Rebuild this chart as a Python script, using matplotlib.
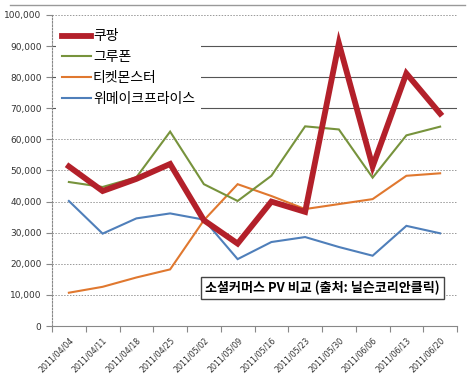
import matplotlib
matplotlib.use("Agg")
import matplotlib.pyplot as plt
from matplotlib.ticker import FuncFormatter
from matplotlib.lines import Line2D

plt.rcParams['font.family'] = ['Noto Sans CJK KR', 'DejaVu Sans']

dates = ["2011/04/04", "2011/04/11", "2011/04/18", "2011/04/25", "2011/05/02", "2011/05/09",
         "2011/05/16", "2011/05/23", "2011/05/30", "2011/06/06", "2011/06/13", "2011/06/20"]
coupang = [51300, 43400, 47300, 52100, 34000, 26500, 40000, 36700, 90900, 51300, 81200, 68300]
grupon = [46300, 44700, 47800, 62500, 45600, 40200, 48300, 64200, 63200, 47700, 61300, 64100]
tmon = [10700, 12600, 15600, 18200, 34000, 45600, 41800, 37600, 39200, 40800, 48300, 49100]
wemakeprice = [40200, 29700, 34600, 36200, 34200, 21500, 27000, 28600, 25400, 22600, 32200, 29800]
series_names = ["쿠팡", "그루폰", "티켓몬스터", "위메이크프라이스"]
yticks = list(range(0, 100001, 10000))
title_text = "소셜커머스 PV 비교 (출처: 닐슨코리안클릭)"

W, H = 474, 376
fig = plt.figure(figsize=(W / 100, H / 100), dpi=100)
ax = fig.add_axes([52 / W, (H - 326) / H, (457 - 52) / W, (326 - 15) / H])

x = list(range(len(dates)))
colors = ["#B3202A", "#77933C", "#E0782F", "#4F7FBA"]
widths = [4.2, 1.5, 1.5, 1.5]
data = [coupang, grupon, tmon, wemakeprice]
handles = []
for vals, c, lw, name, z in zip(data, colors, widths, series_names, [5, 4, 3, 2]):
    h, = ax.plot(x, vals, color=c, lw=lw, solid_joinstyle='miter', zorder=z, label=name)
    handles.append(h)

ax.set_xlim(-0.5, len(dates) - 0.5)
ax.set_ylim(0, 100000)
ax.set_yticks(yticks)
ax.yaxis.set_major_formatter(FuncFormatter(lambda v, p: f"{int(v):,}"))
ax.set_xticks([i - 0.5 for i in range(len(dates) + 1)], minor=False)
ax.set_xticklabels([])
ax.set_xticks(x, minor=True)
ax.set_xticklabels(dates, minor=True, rotation=45, ha='right', rotation_mode='anchor',
                   fontsize=5.7, color='#333333', family='DejaVu Sans')
ax.tick_params(axis='x', which='minor', length=0, pad=7)
ax.tick_params(axis='x', which='major', length=4, color='#888888')
ax.tick_params(axis='y', length=4, color='#888888', labelsize=6.5, labelcolor='#333333')
for lab in ax.get_yticklabels():
    lab.set_family('DejaVu Sans')

for v in yticks[1:]:
    if v in (70000, 80000, 90000):
        ax.axhline(v, color='#555555', lw=0.8, ls='-', zorder=0)
    else:
        ax.axhline(v, color='#999999', lw=0.7, ls=(0, (1.5, 1.5)), zorder=0)

for s in ['top', 'right']:
    ax.spines[s].set_visible(False)
ax.spines['left'].set_color('#888888')
ax.spines['bottom'].set_color('#888888')
ax.spines['left'].set_linestyle((0, (1.5, 1.5)))

leg = ax.legend(handles=handles, loc='upper left', bbox_to_anchor=(0.0, 0.985), frameon=True,
                facecolor='white', edgecolor='none', framealpha=1, fontsize=10,
                handlelength=2.1, handletextpad=0.15, labelspacing=0.5, borderaxespad=0.3)
leg.get_frame().set_linewidth(0)
leg.set_zorder(6)

ax.text(0.668, 0.123, title_text, transform=ax.transAxes, ha='center', va='center',
        fontsize=9.4, fontweight='bold', color='black',
        bbox=dict(boxstyle='square,pad=0.3', facecolor='white', edgecolor='#444444', lw=1.0),
        zorder=7)

fig.add_artist(Line2D([10 / W, 465 / W], [(H - 5) / H, (H - 5) / H], color='#999999', lw=1.0))

fig.savefig("out.png", dpi=100, facecolor='white')
